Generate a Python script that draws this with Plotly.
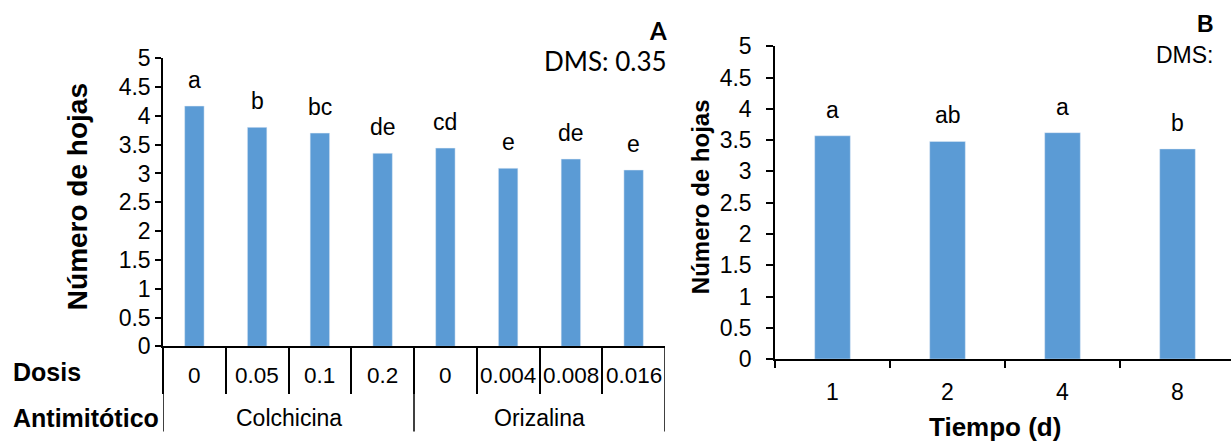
import plotly.graph_objects as go

# --- data -------------------------------------------------------------
antimitoticos = ["Colchicina", "Orizalina"]
dosis_colchicina = ["0", "0.05", "0.1", "0.2"]
dosis_orizalina = ["0", "0.004", "0.008", "0.016"]
hojas_dosis = [4.17, 3.80, 3.70, 3.35, 3.44, 3.09, 3.25, 3.06]
letras_dosis = ["a", "b", "bc", "de", "cd", "e", "de", "e"]

tiempo_d = ["1", "2", "4", "8"]
hojas_tiempo = [3.57, 3.48, 3.62, 3.36]
letras_tiempo = ["a", "ab", "a", "b"]

# --- page geometry (pixels) ------------------------------------------
W, H = 1231, 446
BAR = "#5B9BD5"
FONT = "Liberation Sans, Arial, sans-serif"
CAL = "Lato, Liberation Sans, sans-serif"


def px(x):
    return x / W


def py(y):
    return 1 - y / H


grupos = [antimitoticos[0]] * len(dosis_colchicina) + [antimitoticos[1]] * len(dosis_orizalina)
dosis = dosis_colchicina + dosis_orizalina
claves_a = [f"{g} {d}" for g, d in zip(grupos, dosis)]

fig = go.Figure()
fig.add_trace(go.Bar(x=claves_a, y=hojas_dosis, marker_color=BAR, width=0.31,
                     xaxis="x", yaxis="y", showlegend=False))
fig.add_trace(go.Bar(x=tiempo_d, y=hojas_tiempo, marker_color=BAR, width=0.31,
                     xaxis="x2", yaxis="y2", showlegend=False))

ann = []
shapes = []
txt = dict(family=FONT, size=23, color="black")

# significance letters above the bars
for i, (v, t) in enumerate(zip(hojas_dosis, letras_dosis)):
    ann.append(dict(x=i, y=v, xref="x", yref="y", text=t, showarrow=False,
                    yanchor="middle", yshift=26, font=txt))
for i, (v, t) in enumerate(zip(hojas_tiempo, letras_tiempo)):
    ann.append(dict(x=i, y=v, xref="x2", yref="y2", text=t, showarrow=False,
                    yanchor="middle", yshift=26, font=txt))

# two-row category table under panel A
AX_A = 354.0      # x-axis line of panel A
TABLE_END = 444.3
for i, d in enumerate(dosis):
    ann.append(dict(x=i, y=py(385.2), xref="x", yref="paper", text=d, showarrow=False,
                    yanchor="middle", font=dict(family=FONT, size=22.5, color="black")))
inicio = 0
for g in antimitoticos:
    n = grupos.count(g)
    ann.append(dict(x=inicio + (n - 1) / 2, y=py(430.6), xref="x", yref="paper", text=g,
                    showarrow=False, yanchor="middle", font=txt))
    shapes.append(dict(type="line", xref="x", yref="paper", x0=inicio - 0.5, x1=inicio - 0.5,
                       y0=py(AX_A), y1=py(TABLE_END), line=dict(color="black", width=1.5)))
    inicio += n
shapes.append(dict(type="line", xref="x", yref="paper", x0=inicio - 0.5, x1=inicio - 0.5,
                   y0=py(AX_A), y1=py(TABLE_END), line=dict(color="black", width=1.5)))

bold = dict(family=FONT, size=25, color="black")
ann.append(dict(x=px(11), y=py(381), xref="paper", yref="paper", text="<b>Dosis</b>",
                showarrow=False, xanchor="left", yanchor="middle", font=bold))
ann.append(dict(x=px(11), y=py(430.6), xref="paper", yref="paper", text="<b>Antimitótico</b>",
                showarrow=False, xanchor="left", yanchor="middle", font=bold))

# axis titles
ann.append(dict(x=px(77), y=py(195.6), xref="paper", yref="paper", text="<b>Número de hojas</b>",
                textangle=-90, showarrow=False, xanchor="center", yanchor="middle",
                font=dict(family=FONT, size=28, color="black")))
ann.append(dict(x=px(700), y=py(195.6), xref="paper", yref="paper", text="<b>Número de hojas</b>",
                textangle=-90, showarrow=False, xanchor="center", yanchor="middle",
                font=dict(family=FONT, size=24, color="black")))
ann.append(dict(x=px(995), y=py(440), xref="paper", yref="paper", text="<b>Tiempo (d)</b>",
                showarrow=False, xanchor="center", yanchor="middle",
                font=dict(family=FONT, size=26, color="black")))

# panel tags and least significant difference
ann.append(dict(x=px(669), y=py(18.5), xref="paper", yref="paper", text="<b>A</b>",
                showarrow=False, xanchor="right", yanchor="middle",
                font=dict(family=CAL, size=24, color="black")))
ann.append(dict(x=px(669), y=py(51.2), xref="paper", yref="paper", text="DMS: 0.35",
                showarrow=False, xanchor="right", yanchor="middle",
                font=dict(family=CAL, size=26, color="black")))
ann.append(dict(x=px(1216), y=py(12.2), xref="paper", yref="paper", text="<b>B</b>",
                showarrow=False, xanchor="right", yanchor="middle",
                font=dict(family=FONT, size=23, color="black")))
ann.append(dict(x=px(1216), y=py(44.4), xref="paper", yref="paper", text="DMS:",
                showarrow=False, xanchor="right", yanchor="middle",
                font=dict(family=FONT, size=23, color="black")))

ax_common = dict(showline=True, linecolor="black", linewidth=1.5, showgrid=False,
                 zeroline=False, ticks="outside", tickcolor="black", tickwidth=1.5)
tickfont = dict(family=FONT, size=23, color="black")

fig.update_layout(
    width=W, height=H, margin=dict(l=0, r=0, t=0, b=0),
    paper_bgcolor="white", plot_bgcolor="white", bargap=0.69,
    xaxis=dict(domain=[px(163), px(665)], anchor="y", type="category",
               tickson="boundaries", ticklen=46, showticklabels=False,
               range=[-0.5, len(dosis) - 0.5], **ax_common),
    yaxis=dict(domain=[py(AX_A), py(48.0)], anchor="x", range=[0, 5], dtick=0.5,
               ticklen=6, tickfont=tickfont, **ax_common),
    xaxis2=dict(domain=[px(775), 1.0], anchor="y2", type="category",
                tickson="boundaries", ticklen=7, tickfont=tickfont, ticklabelstandoff=12,
                range=[-0.5, -0.5 + (W - 775) / 115], **ax_common),
    yaxis2=dict(domain=[py(367.5), py(35.4)], anchor="x2", range=[0, 5], dtick=0.5,
                ticklen=7, tickfont=tickfont, ticklabelstandoff=10, **ax_common),
    annotations=ann, shapes=shapes,
)

fig.write_html("out.html")
